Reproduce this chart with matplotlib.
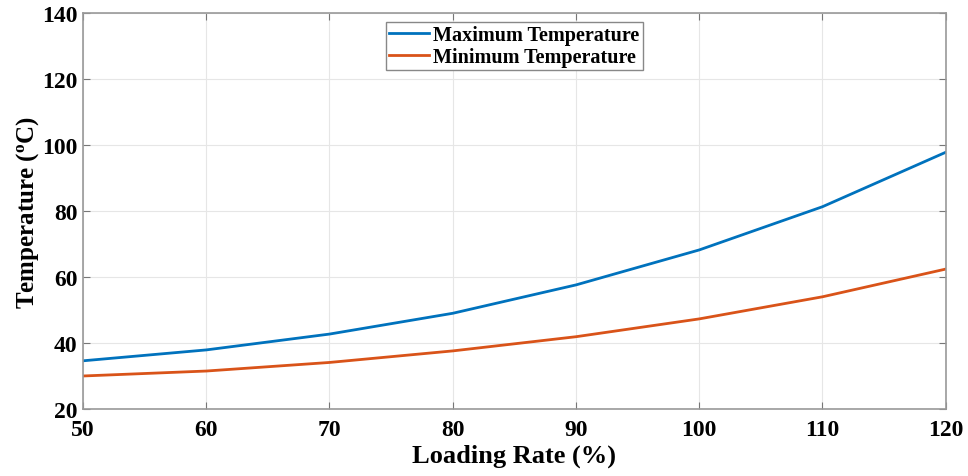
import matplotlib
matplotlib.use('Agg')
import matplotlib.pyplot as plt

# Data
loading_rate = [50, 60, 70, 80, 90, 100, 110, 120]
max_temp = [34.6, 37.9, 42.7, 49.0, 57.6, 68.2, 81.3, 97.8]
min_temp = [30.0, 31.5, 34.1, 37.6, 41.9, 47.3, 54.0, 62.4]
xticks = [50, 60, 70, 80, 90, 100, 110, 120]
yticks = [20, 40, 60, 80, 100, 120, 140]

plt.rcParams['font.family'] = 'Liberation Serif'
plt.rcParams['font.weight'] = 'bold'
plt.rcParams['mathtext.fontset'] = 'custom'
plt.rcParams['mathtext.rm'] = 'Liberation Serif:bold'
plt.rcParams['mathtext.it'] = 'Liberation Serif:bold'
plt.rcParams['mathtext.default'] = 'rm'

fig = plt.figure(figsize=(9.68, 4.77), dpi=100)
ax = fig.add_axes([0.0857, 0.1405, 0.8913, 0.8301])

ax.plot(loading_rate, max_temp, color='#0072BD', lw=2, label='Maximum Temperature')
ax.plot(loading_rate, min_temp, color='#D95319', lw=2, label='Minimum Temperature')

ax.set_xlim(50, 120)
ax.set_ylim(20, 140)
ax.set_xticks(xticks)
ax.set_yticks(yticks)
ax.grid(True, color='#e6e6e6', lw=0.8)
ax.set_axisbelow(True)
ax.tick_params(direction='in', top=True, right=True, length=5, color='#777777',
               labelsize=17)
ax.tick_params(axis='x', pad=7)
ax.tick_params(axis='y', pad=4)
for s in ax.spines.values():
    s.set_color('#999999')
    s.set_linewidth(1.2)

ax.set_xlabel('Loading Rate (%)', fontsize=19, fontweight='bold', labelpad=3)
ax.set_ylabel(r'Temperature ($^{o}$C)', fontsize=18, fontweight='bold', labelpad=1)

leg = ax.legend(loc='upper center', bbox_to_anchor=(0.5, 0.977), fontsize=14.5,
                handlelength=2.0, handletextpad=0.2, borderpad=0.15, labelspacing=0.1,
                fancybox=False, framealpha=1, borderaxespad=0)
leg.get_frame().set_edgecolor('#888888')
leg.get_frame().set_linewidth(1)

fig.savefig('out.png', dpi=100)
